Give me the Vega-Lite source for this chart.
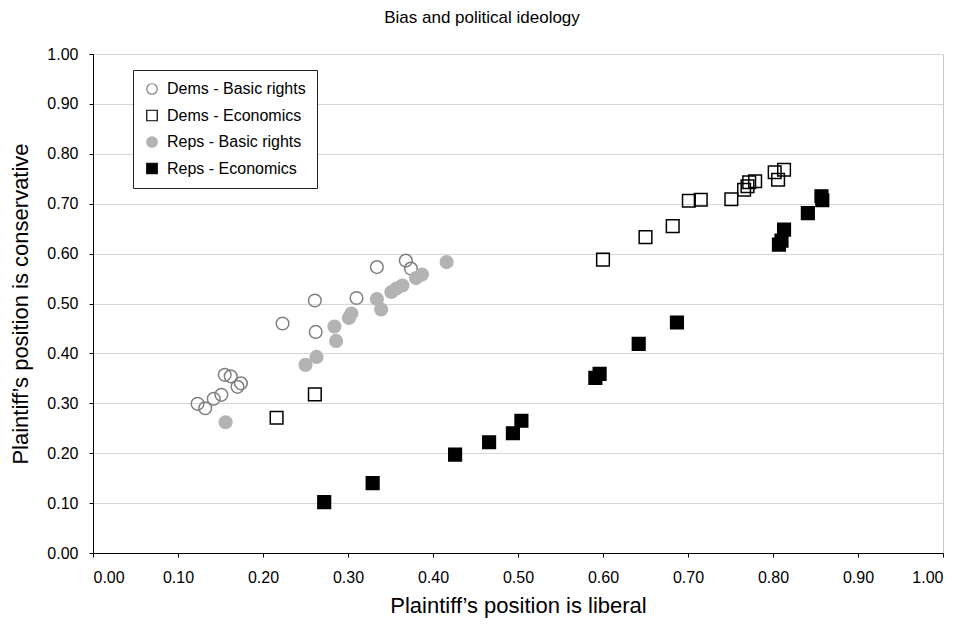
{
  "$schema": "https://vega.github.io/schema/vega-lite/v6.json",
  "width": 850,
  "height": 499,
  "autosize": {"type": "none"},
  "padding": {"left": 93, "top": 54, "right": 21, "bottom": 76},
  "background": "white",
  "title": {"text": "Bias and political ideology", "fontSize": 17, "fontWeight": "normal", "font": "Liberation Sans", "color": "#000", "anchor": "middle", "frame": "group", "dx": -36, "offset": 19},
  "config": {
    "view": {"stroke": "#c8c8c8", "strokeWidth": 1},
    "font": "Liberation Sans",
    "axis": {"labelFont": "Liberation Sans", "titleFont": "Liberation Sans", "labelColor": "#000", "titleColor": "#000", "labelFontSize": 16, "titleFontSize": 22, "titleFontWeight": "normal", "domainColor": "#000", "tickColor": "#000", "tickSize": 4, "domainWidth": 1, "tickWidth": 1},
    "legend": {"orient": "none", "legendX": 40, "legendY": 16, "strokeColor": "#222", "fillColor": "#fff", "padding": 11, "labelFont": "Liberation Sans", "labelFontSize": 16, "labelColor": "#000", "labelOffset": 7, "rowPadding": 10.5, "symbolSize": 110, "symbolStrokeWidth": 1.2, "labelLimit": 300}
  },
  "data": {"values": [
    {"series": "Dems - Basic rights", "x": 0.123, "y": 0.299},
    {"series": "Dems - Basic rights", "x": 0.132, "y": 0.290},
    {"series": "Dems - Basic rights", "x": 0.142, "y": 0.309},
    {"series": "Dems - Basic rights", "x": 0.151, "y": 0.317},
    {"series": "Dems - Basic rights", "x": 0.155, "y": 0.357},
    {"series": "Dems - Basic rights", "x": 0.162, "y": 0.354},
    {"series": "Dems - Basic rights", "x": 0.170, "y": 0.333},
    {"series": "Dems - Basic rights", "x": 0.174, "y": 0.340},
    {"series": "Dems - Basic rights", "x": 0.223, "y": 0.460},
    {"series": "Dems - Basic rights", "x": 0.261, "y": 0.506},
    {"series": "Dems - Basic rights", "x": 0.262, "y": 0.443},
    {"series": "Dems - Basic rights", "x": 0.310, "y": 0.511},
    {"series": "Dems - Basic rights", "x": 0.334, "y": 0.573},
    {"series": "Dems - Basic rights", "x": 0.368, "y": 0.586},
    {"series": "Dems - Basic rights", "x": 0.374, "y": 0.570},
    {"series": "Dems - Economics", "x": 0.216, "y": 0.271},
    {"series": "Dems - Economics", "x": 0.261, "y": 0.318},
    {"series": "Dems - Economics", "x": 0.600, "y": 0.588},
    {"series": "Dems - Economics", "x": 0.650, "y": 0.633},
    {"series": "Dems - Economics", "x": 0.682, "y": 0.655},
    {"series": "Dems - Economics", "x": 0.701, "y": 0.706},
    {"series": "Dems - Economics", "x": 0.715, "y": 0.708},
    {"series": "Dems - Economics", "x": 0.751, "y": 0.709},
    {"series": "Dems - Economics", "x": 0.766, "y": 0.728},
    {"series": "Dems - Economics", "x": 0.770, "y": 0.735},
    {"series": "Dems - Economics", "x": 0.772, "y": 0.743},
    {"series": "Dems - Economics", "x": 0.779, "y": 0.745},
    {"series": "Dems - Economics", "x": 0.802, "y": 0.763},
    {"series": "Dems - Economics", "x": 0.806, "y": 0.748},
    {"series": "Dems - Economics", "x": 0.813, "y": 0.768},
    {"series": "Reps - Basic rights", "x": 0.156, "y": 0.262},
    {"series": "Reps - Basic rights", "x": 0.250, "y": 0.377},
    {"series": "Reps - Basic rights", "x": 0.263, "y": 0.393},
    {"series": "Reps - Basic rights", "x": 0.284, "y": 0.454},
    {"series": "Reps - Basic rights", "x": 0.286, "y": 0.425},
    {"series": "Reps - Basic rights", "x": 0.301, "y": 0.471},
    {"series": "Reps - Basic rights", "x": 0.304, "y": 0.480},
    {"series": "Reps - Basic rights", "x": 0.334, "y": 0.509},
    {"series": "Reps - Basic rights", "x": 0.339, "y": 0.488},
    {"series": "Reps - Basic rights", "x": 0.351, "y": 0.523},
    {"series": "Reps - Basic rights", "x": 0.357, "y": 0.530},
    {"series": "Reps - Basic rights", "x": 0.364, "y": 0.536},
    {"series": "Reps - Basic rights", "x": 0.380, "y": 0.551},
    {"series": "Reps - Basic rights", "x": 0.387, "y": 0.558},
    {"series": "Reps - Basic rights", "x": 0.416, "y": 0.583},
    {"series": "Reps - Economics", "x": 0.272, "y": 0.102},
    {"series": "Reps - Economics", "x": 0.329, "y": 0.140},
    {"series": "Reps - Economics", "x": 0.426, "y": 0.197},
    {"series": "Reps - Economics", "x": 0.466, "y": 0.222},
    {"series": "Reps - Economics", "x": 0.494, "y": 0.240},
    {"series": "Reps - Economics", "x": 0.504, "y": 0.265},
    {"series": "Reps - Economics", "x": 0.591, "y": 0.351},
    {"series": "Reps - Economics", "x": 0.596, "y": 0.359},
    {"series": "Reps - Economics", "x": 0.642, "y": 0.419},
    {"series": "Reps - Economics", "x": 0.687, "y": 0.462},
    {"series": "Reps - Economics", "x": 0.807, "y": 0.618},
    {"series": "Reps - Economics", "x": 0.810, "y": 0.626},
    {"series": "Reps - Economics", "x": 0.813, "y": 0.648},
    {"series": "Reps - Economics", "x": 0.841, "y": 0.681},
    {"series": "Reps - Economics", "x": 0.857, "y": 0.715},
    {"series": "Reps - Economics", "x": 0.858, "y": 0.707}
  ]},
  "mark": {"type": "point", "opacity": 1, "strokeWidth": 1.5, "size": 160},
  "encoding": {
    "x": {"field": "x", "type": "quantitative", "scale": {"domain": [0, 1], "nice": false, "zero": false},
      "axis": {"title": "Plaintiff\u2019s position is liberal", "values": [0, 0.1, 0.2, 0.3, 0.4, 0.5, 0.6, 0.7, 0.8, 0.9, 1], "format": ".2f", "grid": false, "labelPadding": 12, "titlePadding": 10}},
    "y": {"field": "y", "type": "quantitative", "scale": {"domain": [0, 1], "nice": false, "zero": false},
      "axis": {"title": "Plaintiff\u2019s position is conservative", "values": [0, 0.1, 0.2, 0.3, 0.4, 0.5, 0.6, 0.7, 0.8, 0.9, 1], "format": ".2f", "grid": true, "gridColor": "#d6d6d6", "gridWidth": 1, "labelPadding": 11, "titlePadding": 14}},
    "shape": {"field": "series", "type": "nominal", "title": null,
      "scale": {"domain": ["Dems - Basic rights", "Dems - Economics", "Reps - Basic rights", "Reps - Economics"], "range": ["circle", "square", "circle", "square"]}},
    "fill": {"field": "series", "type": "nominal", "title": null,
      "scale": {"domain": ["Dems - Basic rights", "Dems - Economics", "Reps - Basic rights", "Reps - Economics"], "range": ["transparent", "transparent", "#b3b3b3", "#000000"]}},
    "stroke": {"field": "series", "type": "nominal", "title": null,
      "scale": {"domain": ["Dems - Basic rights", "Dems - Economics", "Reps - Basic rights", "Reps - Economics"], "range": ["#7f7f7f", "#000000", "#b3b3b3", "#000000"]}}
  }
}
